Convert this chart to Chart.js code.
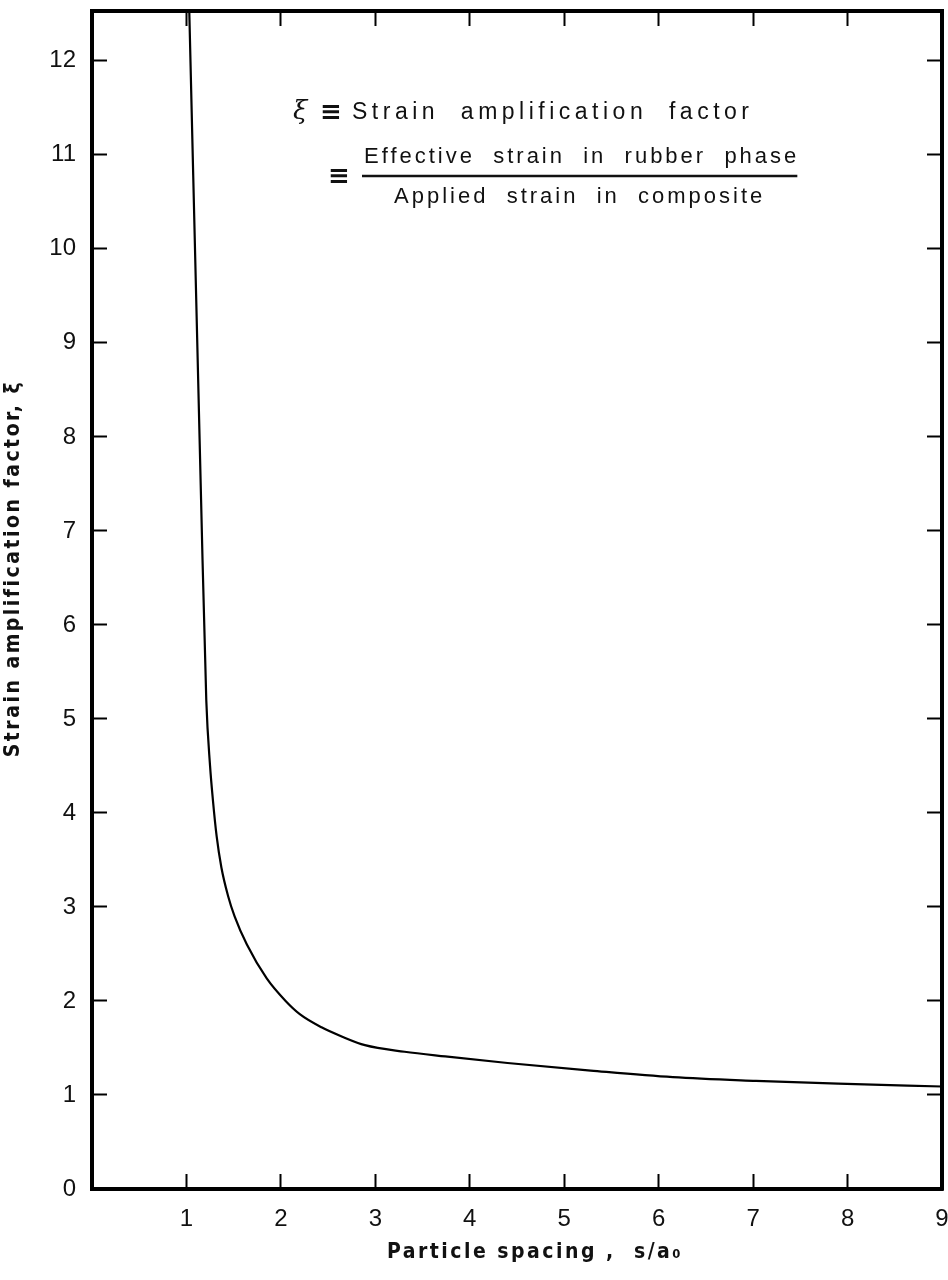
<!DOCTYPE html>
<html>
<head>
<meta charset="utf-8">
<script src="https://cdn.jsdelivr.net/npm/chart.js@4/dist/chart.umd.min.js"></script>
<style>
  html, body { margin: 0; padding: 0; background: #fff; }
  #wrap { width: 948px; height: 1280px; position: relative; }
</style>
</head>
<body>
<div id="wrap"><canvas id="chart"></canvas></div>
<script>
// curve: particle spacing s/a0 vs strain amplification factor
const spacing = [1.03, 1.155, 1.21, 1.25, 1.28, 1.32, 1.37, 1.44, 1.51, 1.64, 1.85, 2.05, 2.2, 2.43, 2.65, 2.89, 3.31, 3.74, 4.4, 5.28, 6.15, 7.03, 7.9, 9.0]
const xi = [12.53, 7.33, 5.2, 4.5, 4.14, 3.75, 3.42, 3.12, 2.9, 2.6, 2.24, 2.0, 1.86, 1.72, 1.62, 1.53, 1.46, 1.41, 1.34, 1.26, 1.19, 1.15, 1.12, 1.09]

const xMin = 0, xMax = 9
const yMin = 0, yMax = 12.53
const xTitle = 'Particle spacing ,  s/a₀'
const yTitle = 'Strain amplification factor, ξ'
const defLine = 'Strain  amplification  factor'
const numerator = 'Effective  strain  in  rubber  phase'
const denominator = 'Applied  strain  in  composite'

const tickFont = { family: 'Liberation Sans', size: 24 }
const titleFont = 'bold 21px "DejaVu Sans Condensed"'

function d(id) {
    return document.getElementById(id)
}

// inward tick marks on all four sides, like the printed figure
function axis(position, show) {
    let horizontal = position == 'bottom' || position == 'top'
    return {
        type: 'linear',
        position: position,
        min: horizontal ? xMin : yMin,
        max: horizontal ? xMax : yMax,
        border: { display: true, color: '#000', width: 4 },
        grid: { drawOnChartArea: false, drawTicks: true, tickLength: -15, tickColor: '#000', tickWidth: 2 },
        ticks: {
            display: show,
            stepSize: 1,
            includeBounds: false,
            color: '#111',
            font: tickFont,
            padding: 31,
            callback: v => (position == 'bottom' && v == 0) ? '' : v
        },
        afterFit: s => {
            if (position == 'left') s.width = 92
            if (position == 'bottom') s.height = 91
            if (position == 'top') s.height = 0
            if (position == 'right') s.width = 0
            s.paddingLeft = s.paddingRight = s.paddingTop = s.paddingBottom = 0
        }
    }
}

const labels_plugin = {
    id: 'labels',
    afterDraw(chart) {
        const ctx = chart.ctx
        const a = chart.chartArea
        ctx.save()
        ctx.fillStyle = '#111'
        ctx.strokeStyle = '#111'

        // axis titles
        ctx.font = titleFont
        ctx.letterSpacing = '2.5px'
        ctx.textAlign = 'center'
        ctx.textBaseline = 'middle'
        ctx.fillText(xTitle, (a.left + a.right) / 2 + 18, 1253)
        ctx.save()
        ctx.translate(14, chart.scales.y.getPixelForValue(6.6))
        ctx.rotate(-Math.PI / 2)
        ctx.fillText(yTitle, 0, 0)
        ctx.restore()

        // definition of xi
        ctx.textAlign = 'left'
        ctx.letterSpacing = '0px'
        ctx.font = 'italic 26px "DejaVu Serif"'
        ctx.fillText('ξ', 293, 112)
        ctx.font = 'bold 26px "DejaVu Sans"'
        ctx.fillText('≡', 320, 113)
        ctx.fillText('≡', 328, 177)

        ctx.font = '23px "Liberation Sans"'
        ctx.letterSpacing = '4.5px'
        ctx.fillText(defLine, 352, 113)

        ctx.font = '22px "Liberation Sans"'
        ctx.letterSpacing = '3px'
        ctx.fillText(numerator, 364, 157)
        const w = ctx.measureText(numerator).width
        ctx.lineWidth = 2.5
        ctx.beginPath()
        ctx.moveTo(362, 176)
        ctx.lineTo(362 + w, 176)
        ctx.stroke()
        ctx.textAlign = 'center'
        ctx.fillText(denominator, 362 + w / 2, 197)
        ctx.restore()
    }
}

const data = {
    datasets: [{
        data: spacing.map((s, i) => ({ x: s, y: xi[i] })),
        borderColor: '#000',
        borderWidth: 2.2,
        pointRadius: 0,
        cubicInterpolationMode: 'monotone',
        fill: false
    }]
}

const options = {
    responsive: false,
    animation: false,
    layout: { padding: { top: 11, right: 6, left: 0, bottom: 0 } },
    plugins: { legend: { display: false }, tooltip: { enabled: false } },
    scales: {
        x: axis('bottom', true),
        y: axis('left', true),
        x2: axis('top', false),
        y2: axis('right', false)
    }
}

const canvas = d('chart')
canvas.width = 948
canvas.height = 1280
new Chart(canvas, { type: 'line', data, options, plugins: [labels_plugin] })
</script>
</body>
</html>
